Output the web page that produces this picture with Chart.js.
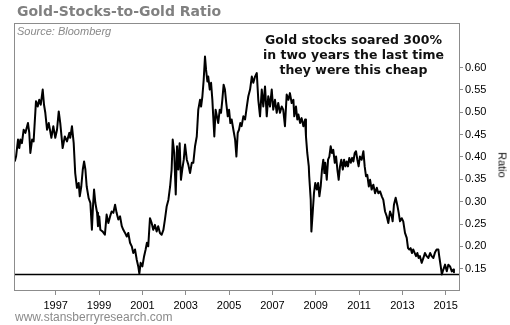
<!DOCTYPE html>
<html>
<head>
<meta charset="utf-8">
<script src="https://cdn.jsdelivr.net/npm/chart.js"></script>
<style>
  html, body { margin: 0; padding: 0; background: #fff; }
  #wrap { position: relative; width: 510px; height: 325px; overflow: hidden; }
  #chart { position: absolute; left: 0; top: 0; }
  .txt { position: absolute; white-space: nowrap; }
  #title { left: 17px; top: 4px; font: bold 14px "DejaVu Sans", Verdana, sans-serif; line-height: 14px; color: #808080; }
  #source { left: 17px; top: 26px; font: italic 11px "Liberation Sans", Arial, sans-serif; line-height: 11px; color: #8a8a8a; }
  #note { left: 353.5px; top: 31.5px; transform: translateX(-50%); text-align: center;
          font: bold 12.5px "DejaVu Sans", Verdana, sans-serif; line-height: 15px; color: #111; }
  #ratio { left: 501.5px; top: 164.5px; transform: translate(-50%, -50%) rotate(90deg);
           font: 11px "Liberation Sans", Arial, sans-serif; line-height: 11px; color: #111; }
  #footer { left: 15px; top: 310.5px; font: 12px "Liberation Sans", Arial, sans-serif; line-height: 12px; color: #8a8a8a; }
</style>
</head>
<body>
<div id="wrap">
  <canvas id="chart" width="510" height="325"></canvas>
  <div class="txt" id="title">Gold-Stocks-to-Gold Ratio</div>
  <div class="txt" id="source">Source: Bloomberg</div>
  <div class="txt" id="note">Gold stocks soared 300%<br>in two years the last time<br>they were this cheap</div>
  <div class="txt" id="ratio">Ratio</div>
  <div class="txt" id="footer">www.stansberryresearch.com</div>
</div>
<script>
// Gold-miner index divided by the gold price, sampled through time (decimal years)
const dates = [
  1995.11,1995.17,1995.26,1995.32,1995.37,1995.44,1995.52,1995.60,1995.72,1995.78,
  1995.83,1995.91,1995.98,1996.09,1996.17,1996.24,1996.31,1996.40,1996.46,1996.52,
  1996.60,1996.68,1996.80,1996.89,1996.98,1997.06,1997.14,1997.21,1997.32,1997.42,
  1997.52,1997.63,1997.67,1997.75,1997.83,1997.90,1997.98,1998.06,1998.11,1998.18,
  1998.25,1998.31,1998.37,1998.43,1998.52,1998.60,1998.67,1998.72,1998.77,1998.83,
  1998.91,1998.95,1999.01,1999.06,1999.17,1999.27,1999.35,1999.43,1999.51,1999.58,
  1999.66,1999.74,1999.81,1999.89,1999.97,2000.05,2000.12,2000.20,2000.28,2000.35,
  2000.43,2000.51,2000.58,2000.66,2000.74,2000.81,2000.86,2000.92,2001.00,2001.08,
  2001.15,2001.21,2001.27,2001.35,2001.43,2001.50,2001.58,2001.66,2001.73,2001.81,
  2001.89,2001.97,2002.04,2002.12,2002.20,2002.28,2002.35,2002.40,2002.47,2002.54,
  2002.60,2002.66,2002.72,2002.78,2002.84,2002.91,2002.97,2003.05,2003.12,2003.20,
  2003.28,2003.35,2003.43,2003.51,2003.58,2003.66,2003.71,2003.77,2003.83,2003.89,
  2003.94,2004.00,2004.04,2004.11,2004.17,2004.23,2004.27,2004.32,2004.38,2004.44,
  2004.50,2004.57,2004.63,2004.69,2004.75,2004.81,2004.87,2004.94,2005.00,2005.06,
  2005.12,2005.20,2005.28,2005.34,2005.40,2005.46,2005.52,2005.58,2005.66,2005.74,
  2005.82,2005.89,2005.97,2006.05,2006.12,2006.20,2006.28,2006.35,2006.43,2006.51,
  2006.58,2006.66,2006.74,2006.81,2006.89,2006.97,2007.04,2007.12,2007.20,2007.27,
  2007.35,2007.43,2007.50,2007.58,2007.66,2007.74,2007.81,2007.89,2007.97,2008.01,
  2008.09,2008.15,2008.20,2008.28,2008.35,2008.43,2008.51,2008.55,2008.61,2008.68,
  2008.70,2008.77,2008.80,2008.86,2008.92,2008.98,2009.05,2009.11,2009.17,2009.23,
  2009.29,2009.35,2009.40,2009.44,2009.51,2009.57,2009.63,2009.69,2009.75,2009.81,
  2009.88,2009.94,2010.00,2010.06,2010.12,2010.18,2010.25,2010.31,2010.37,2010.43,
  2010.49,2010.55,2010.62,2010.68,2010.74,2010.80,2010.86,2010.92,2010.98,2011.04,
  2011.12,2011.20,2011.26,2011.32,2011.38,2011.45,2011.51,2011.58,2011.66,2011.74,
  2011.82,2011.89,2011.97,2012.05,2012.12,2012.20,2012.28,2012.35,2012.43,2012.51,
  2012.55,2012.61,2012.69,2012.77,2012.83,2012.89,2012.97,2013.04,2013.12,2013.20,
  2013.26,2013.32,2013.38,2013.44,2013.50,2013.57,2013.63,2013.69,2013.75,2013.81,
  2013.89,2013.97,2014.04,2014.12,2014.20,2014.28,2014.35,2014.43,2014.51,2014.58,
  2014.66,2014.70,2014.77,2014.82,2014.89,2014.97,2015.05,2015.12,2015.20,2015.28,2015.35,2015.38
];
const ratio = [
  .390,.401,.439,.420,.439,.431,.461,.454,.476,.454,
  .409,.439,.435,.525,.513,.528,.517,.551,.517,.499,
  .461,.476,.443,.469,.443,.461,.502,.476,.420,.446,
  .435,.454,.443,.469,.431,.364,.331,.342,.312,.334,
  .372,.390,.372,.334,.308,.297,.237,.289,.327,.297,
  .275,.245,.267,.237,.233,.226,.271,.252,.267,.278,
  .275,.293,.275,.260,.267,.245,.237,.230,.222,.230,
  .208,.200,.185,.193,.170,.155,.139,.163,.155,.178,
  .193,.208,.200,.263,.252,.237,.248,.233,.245,.230,
  .226,.237,.260,.289,.304,.334,.372,.439,.409,.316,
  .424,.372,.431,.349,.372,.394,.428,.394,.383,.364,
  .387,.387,.424,.446,.506,.528,.513,.536,.573,.625,
  .595,.569,.580,.551,.566,.528,.491,.446,.506,.491,
  .476,.506,.499,.528,.562,.551,.521,.491,.506,.476,
  .484,.461,.439,.401,.454,.461,.476,.469,.491,.484,
  .513,.536,.551,.580,.566,.580,.588,.528,.491,.551,
  .513,.558,.491,.536,.513,.551,.506,.528,.499,.521,
  .499,.513,.506,.469,.540,.528,.543,.521,.528,.491,
  .513,.484,.495,.476,.487,.469,.484,.446,.409,.379,
  .357,.304,.233,.275,.319,.342,.327,.342,.312,.334,
  .372,.394,.364,.387,.349,.394,.401,.424,.409,.416,
  .387,.401,.372,.349,.379,.394,.372,.394,.379,.390,
  .379,.398,.387,.398,.390,.409,.413,.394,.379,.401,
  .394,.413,.379,.357,.360,.334,.349,.327,.338,.319,
  .331,.319,.323,.312,.304,.278,.267,.252,.278,.267,
  .256,.293,.309,.291,.275,.256,.263,.256,.230,.219,
  .196,.193,.196,.185,.193,.185,.178,.185,.174,.178,
  .163,.174,.185,.178,.174,.185,.178,.174,.187,.193,
  .193,.178,.155,.137,.148,.159,.144,.159,.155,.144,.148,.142
];
const yearTicks = [1997, 1999, 2001, 2003, 2005, 2007, 2009, 2011, 2013, 2015];
const ratioTicks = [0.15, 0.20, 0.25, 0.30, 0.35, 0.40, 0.45, 0.50, 0.55, 0.60];
const floorLevel = 0.137;   // the 2000 low, carried across the chart

const xMin = 1995.075, xMax = 2015.613;
const yMin = 0.10, yMax = 0.70;

// gray box around the plotting area
const frame = {
  id: 'frame',
  afterDatasetsDraw(chart) {
    const { ctx, chartArea: a } = chart;
    ctx.save();
    ctx.strokeStyle = '#8c8c8c';
    ctx.lineWidth = 1;
    ctx.strokeRect(a.left + 0.5, a.top + 0.5, a.right - a.left, a.bottom - a.top - 1);
    ctx.restore();
  }
};

const tickFont = { family: '"Liberation Sans", Arial, sans-serif', size: 11 };

new Chart(document.getElementById('chart'), {
  type: 'line',
  data: {
    datasets: [
      {
        data: dates.map((d, i) => ({ x: d, y: ratio[i] })),
        borderColor: '#000',
        borderWidth: 2,
        pointRadius: 0,
        tension: 0,
        borderJoinStyle: 'round'
      },
      {
        data: [{ x: xMin, y: floorLevel }, { x: xMax, y: floorLevel }],
        borderColor: '#000',
        borderWidth: 1.5,
        pointRadius: 0
      }
    ]
  },
  options: {
    responsive: false,
    animation: false,
    events: [],
    layout: { padding: { left: 14, top: 23, right: 0, bottom: 0 } },
    plugins: { legend: { display: false }, tooltip: { enabled: false } },
    scales: {
      x: {
        type: 'linear',
        position: 'bottom',
        min: xMin,
        max: xMax,
        afterBuildTicks: s => { s.ticks = yearTicks.map(v => ({ value: v })); },
        afterFit: s => { s.height = 34; },
        ticks: { callback: v => String(v), font: tickFont, color: '#000', padding: 4, maxRotation: 0, autoSkip: false },
        grid: { drawOnChartArea: false, drawTicks: true, tickLength: 4, color: '#8c8c8c' },
        border: { display: false }
      },
      y: {
        type: 'linear',
        position: 'right',
        min: yMin,
        max: yMax,
        afterBuildTicks: s => { s.ticks = ratioTicks.map(v => ({ value: v })); },
        afterFit: s => { s.width = 51; },
        ticks: { callback: v => v.toFixed(2), font: tickFont, color: '#000', padding: 2, autoSkip: false },
        grid: { drawOnChartArea: false, drawTicks: true, tickLength: 4, color: '#8c8c8c' },
        border: { display: false }
      }
    }
  },
  plugins: [frame]
});
</script>
</body>
</html>
